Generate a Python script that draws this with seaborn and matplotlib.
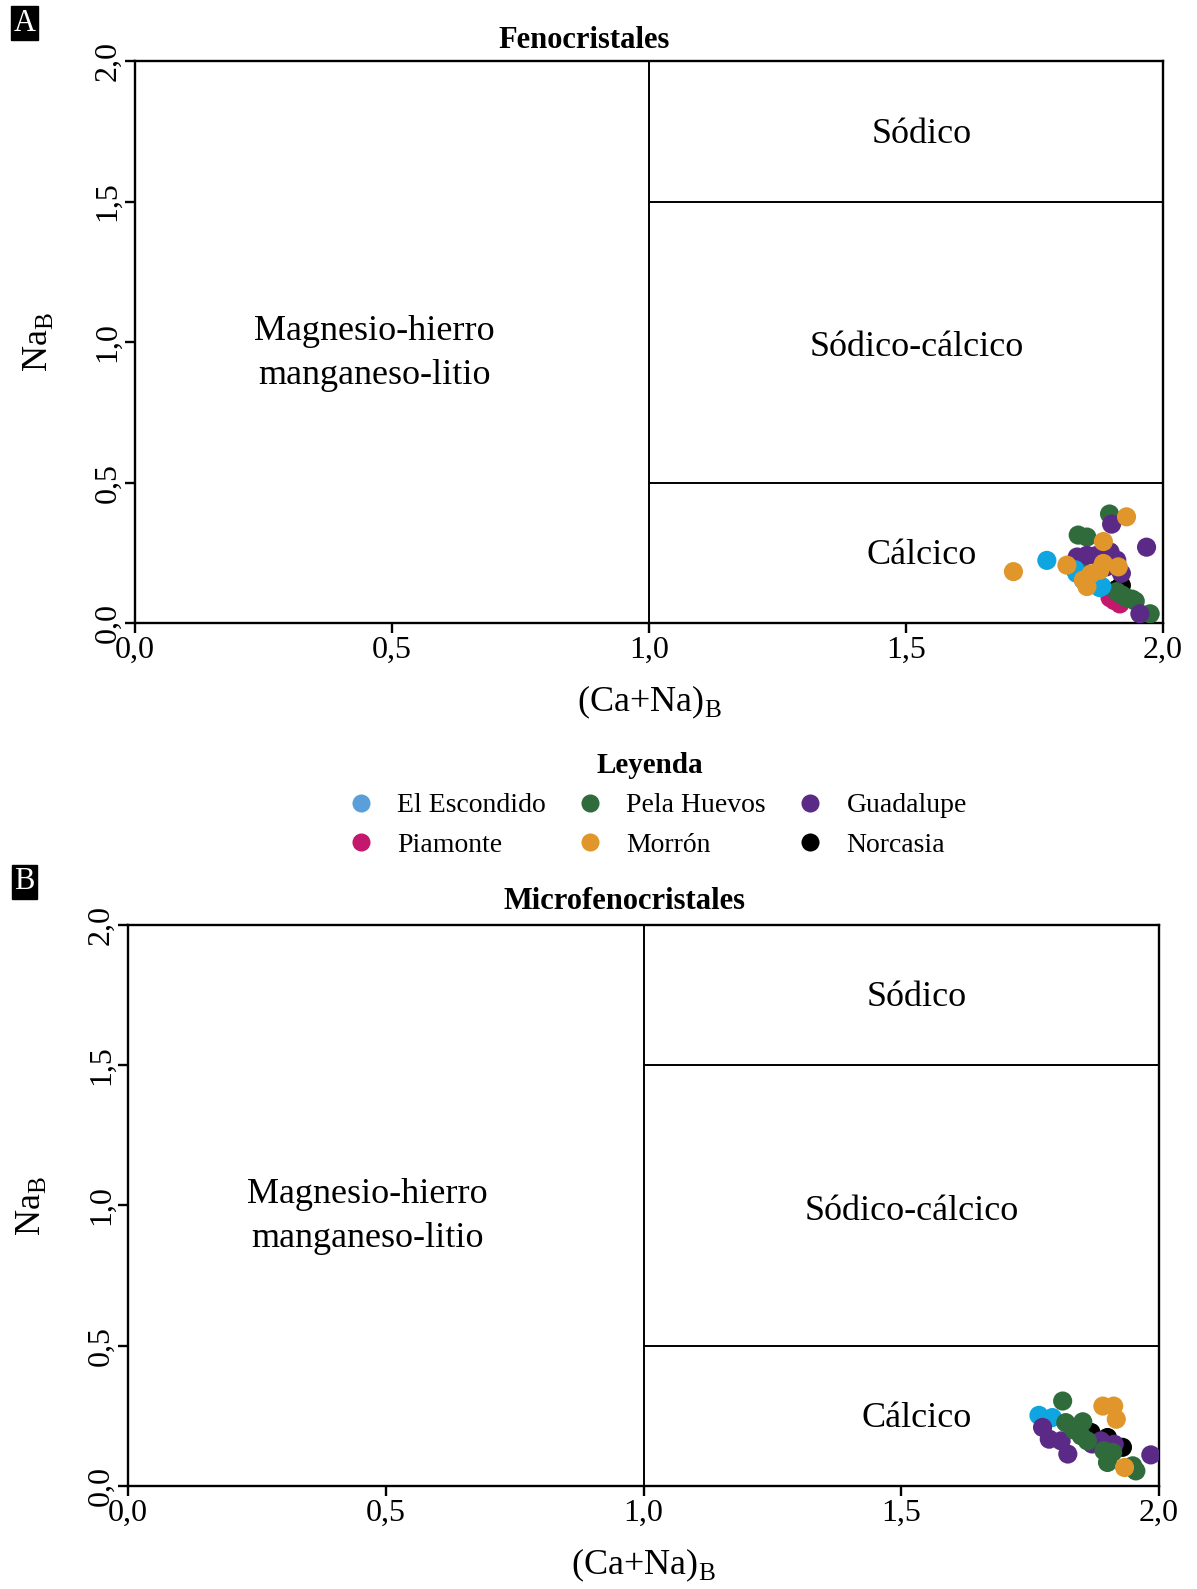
import matplotlib
matplotlib.use("Agg")
import matplotlib.pyplot as plt
from matplotlib.lines import Line2D
import seaborn as sns
import pandas as pd

# ---------------- data ----------------
groups = ["El Escondido", "Piamonte", "Pela Huevos", "Morrón", "Guadalupe", "Norcasia"]
colors = {"El Escondido": "#0ea5e0", "Piamonte": "#c4186c", "Pela Huevos": "#2f6b3b",
          "Morrón": "#e0962a", "Guadalupe": "#5b2a86", "Norcasia": "#000000"}
legend_colors = {"El Escondido": "#5b9fd8", "Piamonte": "#c4186c", "Pela Huevos": "#2f6b3b",
                 "Morrón": "#e0962a", "Guadalupe": "#5b2a86", "Norcasia": "#000000"}

# Fenocristales
feno_piamonte_x = [1.897, 1.916, 1.905]
feno_piamonte_y = [0.090, 0.068, 0.080]
feno_norcasia_x = [1.919, 1.910]
feno_norcasia_y = [0.134, 0.120]
feno_pela_x = [1.896, 1.835, 1.852, 1.910, 1.929, 1.946, 1.975, 1.920, 1.940, 1.838]
feno_pela_y = [0.388, 0.313, 0.306, 0.112, 0.090, 0.078, 0.033, 0.100, 0.085, 0.210]
feno_guadalupe_x = [1.900, 1.968, 1.897, 1.910, 1.919, 1.833, 1.852, 1.955, 1.890, 1.870]
feno_guadalupe_y = [0.352, 0.270, 0.253, 0.224, 0.177, 0.235, 0.241, 0.033, 0.200, 0.240]
feno_escondido_x = [1.774, 1.832, 1.845, 1.864, 1.881, 1.877, 1.829]
feno_escondido_y = [0.223, 0.177, 0.153, 0.165, 0.130, 0.126, 0.190]
feno_morron_x = [1.709, 1.929, 1.884, 1.813, 1.845, 1.852, 1.877, 1.884, 1.913, 1.860]
feno_morron_y = [0.183, 0.378, 0.290, 0.206, 0.153, 0.130, 0.188, 0.212, 0.200, 0.175]

# Microfenocristales
micro_norcasia_x = [1.868, 1.900, 1.929]
micro_norcasia_y = [0.191, 0.173, 0.138]
micro_escondido_x = [1.767, 1.793]
micro_escondido_y = [0.252, 0.244]
micro_guadalupe_x = [1.774, 1.787, 1.810, 1.823, 1.887, 1.913, 1.984, 1.870]
micro_guadalupe_y = [0.209, 0.167, 0.161, 0.114, 0.161, 0.149, 0.111, 0.150]
micro_pela_x = [1.813, 1.819, 1.852, 1.849, 1.861, 1.893, 1.910, 1.900, 1.949, 1.955, 1.835]
micro_pela_y = [0.303, 0.226, 0.229, 0.179, 0.161, 0.126, 0.120, 0.084, 0.072, 0.054, 0.200]
micro_morron_x = [1.891, 1.912, 1.917, 1.933]
micro_morron_y = [0.285, 0.285, 0.238, 0.066]

ticks = [0.0, 0.5, 1.0, 1.5, 2.0]
tick_labels = ["0,0", "0,5", "1,0", "1,5", "2,0"]


def frame(parts):
    rows = []
    for name, xs, ys in parts:
        for x, y in zip(xs, ys):
            rows.append({"x": x, "y": y, "grupo": name})
    return pd.DataFrame(rows)


feno_df = frame([
    ("Piamonte", feno_piamonte_x, feno_piamonte_y),
    ("Norcasia", feno_norcasia_x, feno_norcasia_y),
    ("Pela Huevos", feno_pela_x, feno_pela_y),
    ("Guadalupe", feno_guadalupe_x, feno_guadalupe_y),
    ("El Escondido", feno_escondido_x, feno_escondido_y),
    ("Morrón", feno_morron_x, feno_morron_y),
])
micro_df = frame([
    ("Norcasia", micro_norcasia_x, micro_norcasia_y),
    ("El Escondido", micro_escondido_x, micro_escondido_y),
    ("Guadalupe", micro_guadalupe_x, micro_guadalupe_y),
    ("Pela Huevos", micro_pela_x, micro_pela_y),
    ("Morrón", micro_morron_x, micro_morron_y),
])

# ---------------- style ----------------
sns.set_style("ticks")
plt.rcParams["font.family"] = ["Liberation Serif", "DejaVu Serif"]
plt.rcParams["mathtext.fontset"] = "custom"
plt.rcParams["mathtext.rm"] = "Liberation Serif"
for k in ["text.color", "axes.labelcolor", "xtick.color", "ytick.color", "axes.edgecolor"]:
    plt.rcParams[k] = "black"

fig = plt.figure(figsize=(11.97, 15.89), dpi=100)
ax1 = fig.add_axes([0.1128, 0.6079, 0.8588, 0.3537])
ax2 = fig.add_axes([0.1070, 0.0648, 0.8613, 0.3531])


def draw(ax, df):
    ax.plot([1, 1], [0, 2], color="black", lw=1.4, zorder=1)
    ax.plot([1, 2], [0.5, 0.5], color="black", lw=1.4, zorder=1)
    ax.plot([1, 2], [1.5, 1.5], color="black", lw=1.4, zorder=1)
    sns.scatterplot(data=df, x="x", y="y", hue="grupo", palette=colors, s=190,
                    linewidth=0, alpha=1, legend=False, ax=ax, zorder=3)
    ax.set_xlim(0, 2)
    ax.set_ylim(0, 2)
    ax.set_xticks(ticks)
    ax.set_xticklabels(tick_labels, fontsize=23)
    ax.set_yticks(ticks)
    ax.set_yticklabels(tick_labels, fontsize=23, rotation=90, va="center")
    ax.tick_params(direction="out", length=7, width=1.7, pad=2)
    for sp in ax.spines.values():
        sp.set_linewidth(1.7)
    ax.set_xlabel(r"(Ca+Na)$_\mathregular{B}$", fontsize=26, labelpad=14)
    ax.set_ylabel(r"Na$_\mathregular{B}$", fontsize=26, labelpad=28)
    ax.text(1.53, 1.74, "Sódico", fontsize=26, ha="center", va="center")
    ax.text(1.52, 0.98, "Sódico-cálcico", fontsize=26, ha="center", va="center")
    ax.text(1.53, 0.24, "Cálcico", fontsize=26, ha="center", va="center")
    ax.text(0.465, 0.96, "Magnesio-hierro\nmanganeso-litio", fontsize=26,
            ha="center", va="center", linespacing=1.45)


draw(ax1, feno_df)
draw(ax2, micro_df)

# titles
fig.text(584 / 1197, 1 - 40 / 1589, "Fenocristales", fontsize=22, fontweight="bold",
         ha="center", va="center")
fig.text(625 / 1197, 1 - 901 / 1589, "Microfenocristales", fontsize=22, fontweight="bold",
         ha="center", va="center")

# panel labels
for lab, y in [("A", 0.9855), ("B", 0.4452)]:
    fig.text(0.0205, y, lab, fontsize=22, color="white", ha="center", va="center",
             bbox=dict(boxstyle="square,pad=0.08", facecolor="black", edgecolor="black"))

# legend
handles = [Line2D([0], [0], marker="o", linestyle="none", markersize=13,
                  markerfacecolor=legend_colors[g], markeredgewidth=0, label=g) for g in groups]
leg = fig.legend(handles=handles, loc="center", bbox_to_anchor=(0.543, 0.4935), ncol=3,
                 frameon=False, fontsize=20, title="Leyenda",
                 title_fontproperties={"weight": "bold", "size": 21},
                 handletextpad=0.3, columnspacing=0.6, labelspacing=0.5)

fig.savefig("out.png", dpi=100)
